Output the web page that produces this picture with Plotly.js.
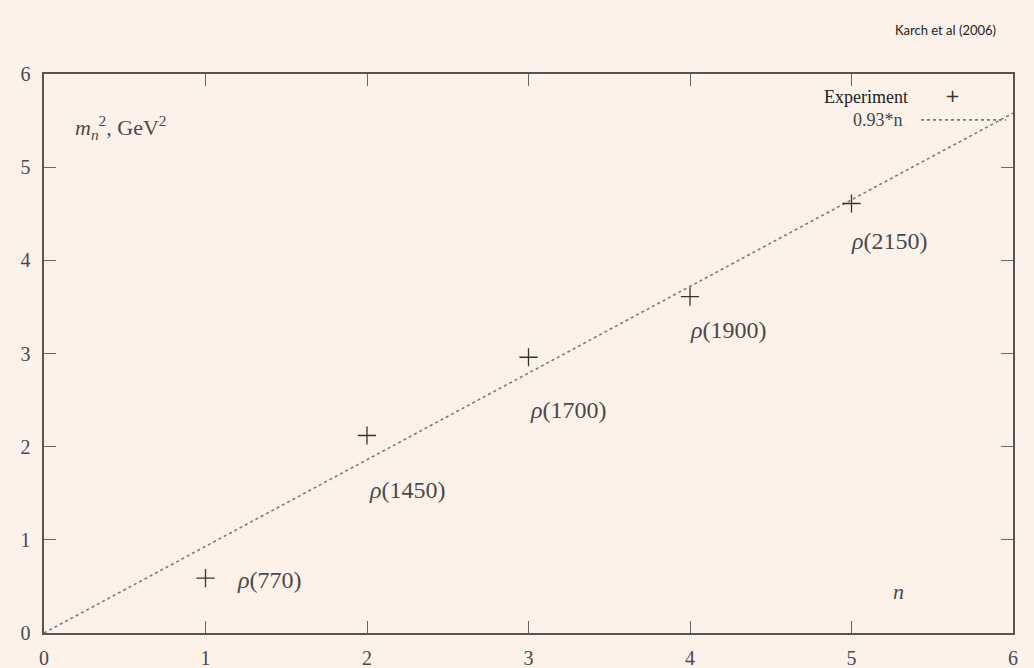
<!DOCTYPE html>
<html>
<head>
<meta charset="utf-8">
<script src="https://cdn.plot.ly/plotly-3.0.1.min.js"></script>
<style>
html,body{margin:0;padding:0;background:#fcf2ea;}
#chart{width:1034px;height:668px;}
</style>
</head>
<body>
<div id="chart"></div>
<script>
// Data
const levels = [1, 2, 3, 4, 5];
const massSquared = [0.59, 2.12, 2.96, 3.61, 4.61];
const stateLabels = ["<i>ρ</i>(770)", "<i>ρ</i>(1450)", "<i>ρ</i>(1700)", "<i>ρ</i>(1900)", "<i>ρ</i>(2150)"];
const fitSlope = 0.93;
const fitX = [0, 6];
const fitY = fitX.map(v => fitSlope * v);
const xTicks = [0, 1, 2, 3, 4, 5, 6];
const yTicks = [0, 1, 2, 3, 4, 5, 6];

const serif = "Liberation Serif, DejaVu Serif, serif";
const textColor = "#4a4a4a";

const traces = [
  {
    x: fitX, y: fitY, mode: "lines", name: "0.93*n",
    line: {color: "#7a7a7a", width: 1.6, dash: "dot"},
    hoverinfo: "skip", showlegend: false
  },
  {
    x: levels, y: massSquared, mode: "markers", name: "Experiment",
    marker: {symbol: "cross-thin-open", size: 13, color: "#333", line: {color: "#333", width: 1.3}},
    showlegend: false
  }
];

// label offsets (in pixels) relative to each point: [right, down]
const labelOffsets = [[29, 2], [0, 55], [-1, 53], [-2, 33], [-3, 37]];
const annotations = stateLabels.map((t, i) => ({
  x: levels[i], y: massSquared[i], xref: "x", yref: "y",
  text: t, showarrow: false, xanchor: "left", yanchor: "middle",
  xshift: labelOffsets[i][0], yshift: -labelOffsets[i][1],
  font: {family: serif, size: 24, color: textColor}
}));

annotations.push(
  {text: "<i>m</i><sub><i>n</i></sub><sup>2</sup>, GeV<sup>2</sup>", x: 0.03, y: 0.905, xref: "paper", yref: "paper",
   xanchor: "left", yanchor: "middle", showarrow: false, font: {family: serif, size: 22, color: textColor}},
  {text: "<i>n</i>", x: 0.882, y: 0.075, xref: "paper", yref: "paper",
   xanchor: "center", yanchor: "middle", showarrow: false, font: {family: serif, size: 22, color: textColor}},
  {text: "Experiment", x: 0.894, y: 0.958, xref: "paper", yref: "paper",
   xanchor: "right", yanchor: "middle", showarrow: false, font: {family: serif, size: 18, color: "#222"}},
  {text: "0.93*n", x: 0.889, y: 0.918, xref: "paper", yref: "paper",
   xanchor: "right", yanchor: "middle", showarrow: false, font: {family: serif, size: 18, color: "#444"}},
  {text: "+", x: 0.938, y: 0.961, xref: "paper", yref: "paper",
   xanchor: "center", yanchor: "middle", showarrow: false, font: {family: "DejaVu Sans", size: 18, color: "#333"}},
  {text: "Karch et al (2006)", x: 0.985, y: 1.078, xref: "paper", yref: "paper",
   xanchor: "right", yanchor: "middle", showarrow: false, font: {family: "Lato, Liberation Sans, sans-serif", size: 13, color: "#222"}}
);

const axisCommon = {
  showgrid: false, zeroline: false, showline: true, mirror: "ticks",
  linecolor: "#555", linewidth: 1.6, ticks: "inside", ticklen: 12, tickwidth: 1, tickcolor: "#666",
  tickfont: {family: serif, size: 20, color: textColor}, fixedrange: true
};

const layout = {
  width: 1034, height: 668,
  paper_bgcolor: "#fcf2ea", plot_bgcolor: "#fcf2ea",
  margin: {l: 44, r: 21, t: 74, b: 35},
  showlegend: false,
  xaxis: Object.assign({}, axisCommon, {range: [0, 6], tickvals: xTicks, ticklabelstandoff: 6}),
  yaxis: Object.assign({}, axisCommon, {range: [0, 6], tickvals: yTicks, ticklabelstandoff: 8}),
  shapes: [
    {type: "line", xref: "paper", yref: "paper", x0: 0.905, x1: 0.993, y0: 0.918, y1: 0.918,
     line: {color: "#7a7a7a", width: 1.6, dash: "dot"}}
  ],
  annotations: annotations
};

Plotly.newPlot("chart", traces, layout, {displayModeBar: false, staticPlot: true});
</script>
</body>
</html>
